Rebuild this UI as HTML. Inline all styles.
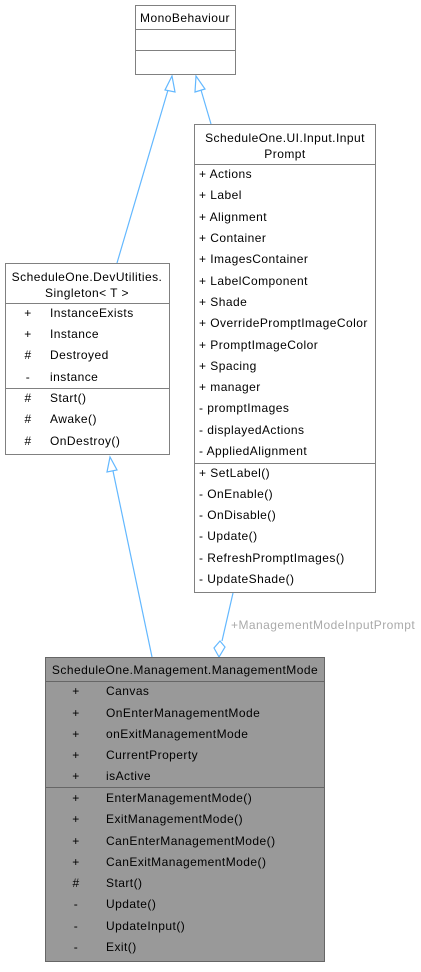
<!DOCTYPE html>
<html><head><meta charset="utf-8"><style>
html,body{margin:0;padding:0;background:#fff;}
svg text{font-family:"Liberation Sans",sans-serif;font-size:12px;fill:#000;letter-spacing:0.45px;}
</style></head><body>
<svg width="421" height="967" viewBox="0 0 421 967" xmlns="http://www.w3.org/2000/svg">
<g stroke="#63b8ff" stroke-width="1.2" fill="none">
<line x1="117" y1="263" x2="168" y2="90"/>
<polygon points="172,76 165,90 175,92" fill="#fff"/>
<line x1="211" y1="124" x2="201" y2="90"/>
<polygon points="196,76 195,92 205,89" fill="#fff"/>
<line x1="152" y1="657" x2="113" y2="471"/>
<polygon points="110,457 107,472 117,470" fill="#fff"/>
<line x1="233" y1="593" x2="222" y2="641"/>
<polygon points="219,657 214,648 220,641 225,647" fill="#fff"/>
</g>
<text x="231" y="629" style="fill:#aaa">+ManagementModeInputPrompt</text>

<g stroke="#808080" stroke-width="1" fill="#fff">
<rect x="135.5" y="5.5" width="100" height="69"/>
<line x1="135" y1="29.5" x2="236" y2="29.5"/>
<line x1="135" y1="50.5" x2="236" y2="50.5"/>
</g>
<text x="185" y="22" text-anchor="middle">MonoBehaviour</text>

<g stroke="#808080" stroke-width="1" fill="#fff">
<rect x="194.5" y="124.5" width="181" height="468"/>
<line x1="194" y1="164.5" x2="376" y2="164.5"/>
<line x1="194" y1="463.5" x2="376" y2="463.5"/>
</g>
<text x="285" y="142" text-anchor="middle">ScheduleOne.UI.Input.Input</text>
<text x="285" y="158" text-anchor="middle">Prompt</text>
<g>
<text x="199" y="178">+ Actions</text>
<text x="199" y="199">+ Label</text>
<text x="199" y="221">+ Alignment</text>
<text x="199" y="242">+ Container</text>
<text x="199" y="263">+ ImagesContainer</text>
<text x="199" y="285">+ LabelComponent</text>
<text x="199" y="306">+ Shade</text>
<text x="199" y="327">+ OverridePromptImageColor</text>
<text x="199" y="349">+ PromptImageColor</text>
<text x="199" y="370">+ Spacing</text>
<text x="199" y="391">+ manager</text>
<text x="199" y="412">-  promptImages</text>
<text x="199" y="434">-  displayedActions</text>
<text x="199" y="455">-  AppliedAlignment</text>
<text x="199" y="477">+ SetLabel()</text>
<text x="199" y="498">-  OnEnable()</text>
<text x="199" y="519">-  OnDisable()</text>
<text x="199" y="540">-  Update()</text>
<text x="199" y="562">-  RefreshPromptImages()</text>
<text x="199" y="583">-  UpdateShade()</text>
</g>

<g stroke="#808080" stroke-width="1" fill="#fff">
<rect x="5.5" y="263.5" width="164" height="191"/>
<line x1="5" y1="303.5" x2="170" y2="303.5"/>
<line x1="5" y1="388.5" x2="170" y2="388.5"/>
</g>
<text x="87" y="281" text-anchor="middle">ScheduleOne.DevUtilities.</text>
<text x="87" y="297" text-anchor="middle">Singleton&lt; T &gt;</text>
<g>
<text x="28" y="317" text-anchor="middle">+</text><text x="50" y="317">InstanceExists</text>
<text x="28" y="338" text-anchor="middle">+</text><text x="50" y="338">Instance</text>
<text x="28" y="359" text-anchor="middle">#</text><text x="50" y="359">Destroyed</text>
<text x="28" y="381" text-anchor="middle">-</text><text x="50" y="381">instance</text>
<text x="28" y="402" text-anchor="middle">#</text><text x="50" y="402">Start()</text>
<text x="28" y="423" text-anchor="middle">#</text><text x="50" y="423">Awake()</text>
<text x="28" y="445" text-anchor="middle">#</text><text x="50" y="445">OnDestroy()</text>
</g>

<g stroke="#666" stroke-width="1" fill="#999">
<rect x="45.5" y="657.5" width="279" height="304"/>
<line x1="45" y1="681.5" x2="325" y2="681.5"/>
<line x1="45" y1="787.5" x2="325" y2="787.5"/>
</g>
<text x="185" y="674" text-anchor="middle">ScheduleOne.Management.ManagementMode</text>
<g>
<text x="76" y="695" text-anchor="middle">+</text><text x="106" y="695">Canvas</text>
<text x="76" y="717" text-anchor="middle">+</text><text x="106" y="717">OnEnterManagementMode</text>
<text x="76" y="738" text-anchor="middle">+</text><text x="106" y="738">onExitManagementMode</text>
<text x="76" y="759" text-anchor="middle">+</text><text x="106" y="759">CurrentProperty</text>
<text x="76" y="780" text-anchor="middle">+</text><text x="106" y="780">isActive</text>
<text x="76" y="802" text-anchor="middle">+</text><text x="106" y="802">EnterManagementMode()</text>
<text x="76" y="823" text-anchor="middle">+</text><text x="106" y="823">ExitManagementMode()</text>
<text x="76" y="845" text-anchor="middle">+</text><text x="106" y="845">CanEnterManagementMode()</text>
<text x="76" y="866" text-anchor="middle">+</text><text x="106" y="866">CanExitManagementMode()</text>
<text x="76" y="887" text-anchor="middle">#</text><text x="106" y="887">Start()</text>
<text x="76" y="908" text-anchor="middle">-</text><text x="106" y="908">Update()</text>
<text x="76" y="930" text-anchor="middle">-</text><text x="106" y="930">UpdateInput()</text>
<text x="76" y="951" text-anchor="middle">-</text><text x="106" y="951">Exit()</text>
</g>
</svg>
</body></html>
